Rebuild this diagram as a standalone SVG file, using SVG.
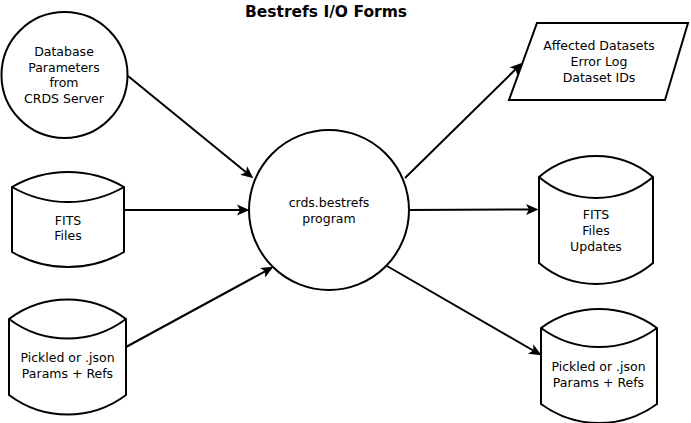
<svg xmlns="http://www.w3.org/2000/svg" width="691" height="423" viewBox="0 0 691 423">
<style>
.shape{fill:#fff;stroke:#000;stroke-width:2}
.inner{fill:none;stroke:#000;stroke-width:2}
.conn{fill:none;stroke:#000;stroke-width:2}
text{font-family:"DejaVu Sans","Noto Sans",sans-serif;font-size:12.5px;fill:#000;text-anchor:middle}
.title{font-weight:bold;font-size:15.5px}
</style>
<defs>
<marker id="arr" markerUnits="userSpaceOnUse" markerWidth="14" markerHeight="12" viewBox="0 -6 14 12" refX="3" refY="0" orient="auto">
<path d="M0,-5.5 L12.5,0 L0,5.5 L3,0 Z" fill="#000"/>
</marker>
</defs>
<rect width="691" height="423" fill="#fff"/>
<text class="title" x="326" y="17">Bestrefs I/O Forms</text>
<g id="connectors">
<line class="conn" x1="128" y1="76" x2="246" y2="172.3" marker-end="url(#arr)"/>
<line class="conn" x1="124" y1="210" x2="240" y2="210" marker-end="url(#arr)"/>
<line class="conn" x1="126" y1="347" x2="265.1" y2="271.3" marker-end="url(#arr)"/>
<line class="conn" x1="405" y1="178" x2="515.6" y2="69.3" marker-end="url(#arr)"/>
<line class="conn" x1="409" y1="210" x2="529" y2="209.5" marker-end="url(#arr)"/>
<line class="conn" x1="387" y1="266" x2="533.2" y2="350.5" marker-end="url(#arr)"/>
</g>
<g id="db-params">
<circle class="shape" cx="64.5" cy="75" r="63"/>
<text x="64" y="56">Database</text>
<text x="64" y="72">Parameters</text>
<text x="64" y="87">from</text>
<text x="64" y="103">CRDS Server</text>
</g>
<g id="fits-in">
<path class="shape" d="M12,187 A112,112 0 0 1 124,187 L124,252 A112,112 0 0 1 12,252 Z"/>
<path class="inner" d="M12,187 A112,112 0 0 0 124,187"/>
<text x="68" y="225">FITS</text>
<text x="68" y="240">Files</text>
</g>
<g id="pickled-in">
<path class="shape" d="M9,319 A97.5,97.5 0 0 1 126,319 L126,395 A97.5,97.5 0 0 1 9,395 Z"/>
<path class="inner" d="M9,319 A97.5,97.5 0 0 0 126,319"/>
<text x="67.5" y="362">Pickled or .json</text>
<text x="67.5" y="378">Params + Refs</text>
</g>
<g id="bestrefs">
<circle class="shape" cx="329" cy="210" r="80"/>
<text x="329" y="207">crds.bestrefs</text>
<text x="329" y="222.5">program</text>
</g>
<g id="affected">
<polygon class="shape" points="537,23 688,23 665,100 509,100"/>
<text x="599" y="50">Affected Datasets</text>
<text x="599" y="66">Error Log</text>
<text x="599" y="82">Dataset IDs</text>
</g>
<g id="fits-out">
<path class="shape" d="M539,177 A88,88 0 0 1 653,177 L653,263 A88,88 0 0 1 539,263 Z"/>
<path class="inner" d="M539,177 A88,88 0 0 0 653,177"/>
<text x="596" y="219">FITS</text>
<text x="596" y="235">Files</text>
<text x="596" y="251">Updates</text>
</g>
<g id="pickled-out">
<path class="shape" d="M541,328 A98,98 0 0 1 657,328 L657,404 A98,98 0 0 1 541,404 Z"/>
<path class="inner" d="M541,328 A98,98 0 0 0 657,328"/>
<text x="598.5" y="371">Pickled or .json</text>
<text x="598.5" y="387">Params + Refs</text>
</g>
</svg>
